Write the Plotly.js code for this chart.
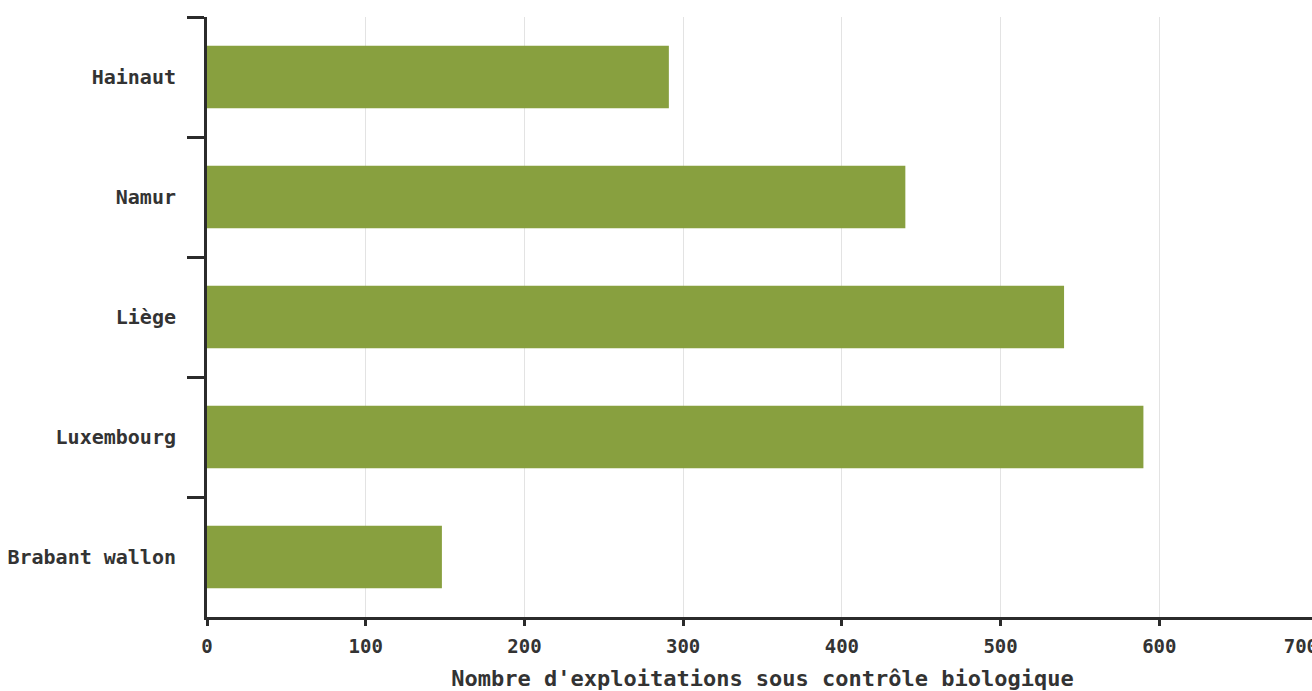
<!DOCTYPE html>
<html>
<head>
<meta charset="utf-8">
<script src="https://cdn.plot.ly/plotly-3.0.1.min.js"></script>
<style>
html,body{margin:0;padding:0;overflow:hidden;background:#fff;}
#chart{width:1320px;height:691px;}
</style>
</head>
<body>
<div id="chart"></div>
<script>
const provinces = ["Hainaut", "Namur", "Liège", "Luxembourg", "Brabant wallon"];
const exploitations = [291, 440, 540, 590, 148];
const xTicks = [0, 100, 200, 300, 400, 500, 600, 700];
const xTickText = ["0", "100", "200", "300", "400", "500", "600", "700\u00a0\u00a0\u00a0"];
const xTitle = "Nombre d'exploitations sous contrôle biologique";

const fontFam = '"DejaVu Sans Mono", "Liberation Mono", monospace';

const trace = {
  type: 'bar',
  orientation: 'h',
  x: exploitations,
  y: provinces,
  marker: {color: '#88a03f'},
  hoverinfo: 'x+y'
};

const layout = {
  width: 1320,
  height: 691,
  margin: {l: 207, r: 2, t: 17, b: 74},
  paper_bgcolor: '#ffffff',
  plot_bgcolor: '#ffffff',
  bargap: 0.48,
  showlegend: false,
  font: {family: fontFam, color: '#333333'},
  xaxis: {
    range: [0, 700],
    tickvals: xTicks,
    ticktext: xTickText,
    showgrid: true,
    gridcolor: '#e3e3e3',
    gridwidth: 1,
    zeroline: false,
    showline: true,
    linecolor: '#2b2b2b',
    linewidth: 3,
    ticks: 'outside',
    ticklen: 6,
    tickwidth: 3,
    tickcolor: '#2b2b2b',
    ticklabelstandoff: 4,
    ticklabeloverflow: 'allow',
    tickfont: {family: fontFam, size: 19, weight: 'bold', color: '#333333'},
    title: {text: xTitle, font: {family: fontFam, size: 22, weight: 'bold', color: '#333333'}, standoff: 25},
    fixedrange: true
  },
  yaxis: {
    type: 'category',
    categoryorder: 'array',
    categoryarray: provinces,
    autorange: 'reversed',
    showgrid: false,
    zeroline: false,
    showline: true,
    linecolor: '#2b2b2b',
    linewidth: 3,
    ticks: 'outside',
    tickson: 'boundaries',
    ticklen: 17,
    tickwidth: 3,
    tickcolor: '#2b2b2b',
    ticklabelstandoff: 24,
    tickfont: {family: fontFam, size: 20, weight: 'bold', color: '#333333'},
    fixedrange: true
  }
};

Plotly.newPlot('chart', [trace], layout, {displayModeBar: false, staticPlot: true});
</script>
</body>
</html>
